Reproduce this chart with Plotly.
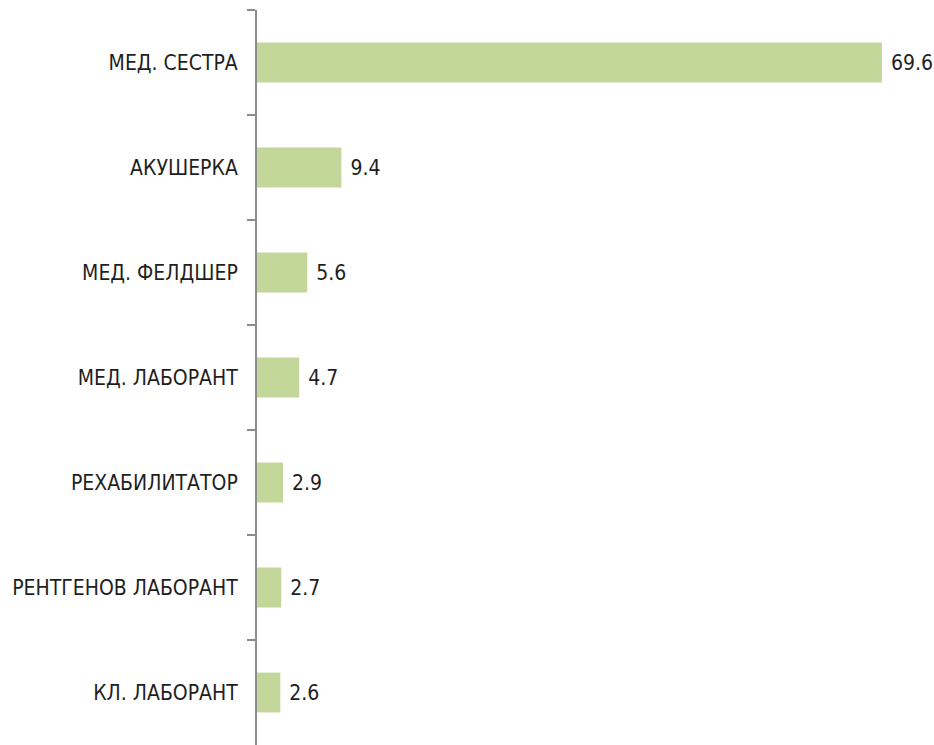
import plotly.graph_objects as go

categories = ["МЕД. СЕСТРА", "АКУШЕРКА", "МЕД. ФЕЛДШЕР", "МЕД. ЛАБОРАНТ",
              "РЕХАБИЛИТАТОР", "РЕНТГЕНОВ ЛАБОРАНТ", "КЛ. ЛАБОРАНТ"]
values = [69.6, 9.4, 5.6, 4.7, 2.9, 2.7, 2.6]
value_labels = ["69.6", "9.4", "5.6", "4.7", "2.9", "2.7", "2.6"]

font_family = "Liberation Sans Narrow, Arial Narrow, DejaVu Sans Condensed, sans-serif"

fig = go.Figure(go.Bar(
    y=categories,
    x=values,
    orientation="h",
    marker=dict(color="#c4d79b", line=dict(width=0)),
    text=["\u00a0" + t for t in value_labels],
    textposition="outside",
    textfont=dict(family=font_family, size=21, color="#1f1f1f"),
    cliponaxis=False,
))

fig.update_layout(
    width=934, height=745,
    margin=dict(l=257, r=0, t=10, b=0),
    paper_bgcolor="white",
    plot_bgcolor="white",
    bargap=0.62,
    showlegend=False,
    font=dict(family=font_family, size=21, color="#1f1f1f"),
)
fig.update_xaxes(range=[0, 75.4], visible=False, showgrid=False, zeroline=False)
fig.update_yaxes(
    autorange="reversed",
    showline=True, linecolor="#8c8c8c", linewidth=2,
    ticks="outside", ticklen=8, tickcolor="#8c8c8c", tickwidth=2,
    tickson="boundaries",
    showgrid=False,
    ticklabelstandoff=13,
    tickfont=dict(family=font_family, size=21, color="#1f1f1f"),
)

fig.write_html(
    "out.html",
    config={"displayModeBar": False},
    post_script="document.body.style.margin='0';document.body.style.overflow='hidden';",
)
